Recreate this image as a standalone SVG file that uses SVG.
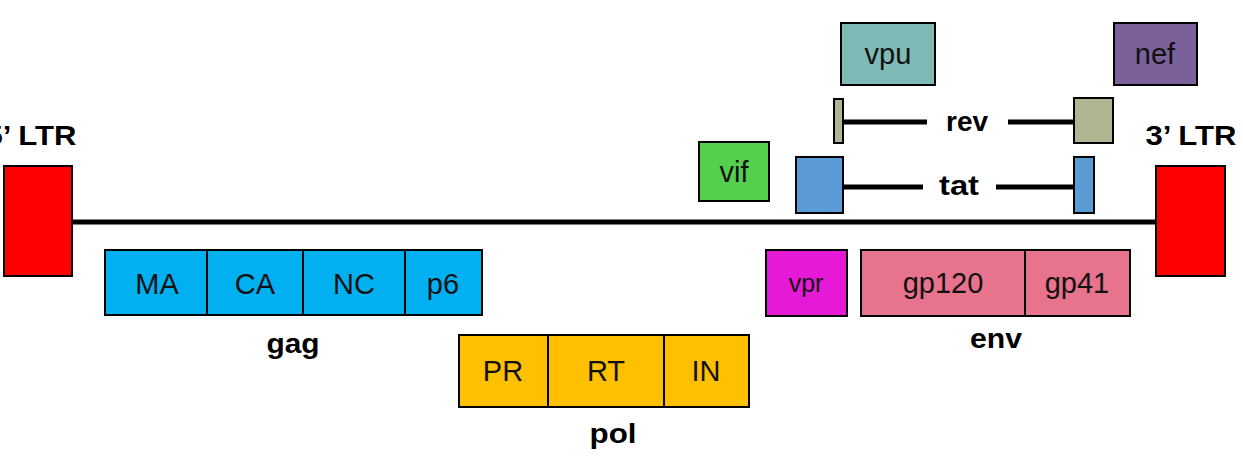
<svg xmlns="http://www.w3.org/2000/svg" width="1243" height="456" viewBox="0 0 1243 456">
<style>
.box{stroke:#000;stroke-width:2}
.div{stroke:#000;stroke-width:2}
.lbl{font-family:"Liberation Sans",Arial,sans-serif;font-size:29px;fill:#111;text-anchor:middle}
.bold{font-family:"Liberation Sans",Arial,sans-serif;font-weight:bold;font-size:28px;fill:#000;text-anchor:middle}
.ln{stroke:#000;stroke-width:5;fill:none}
</style>
<rect width="1243" height="456" fill="#fff"/>
<g id="connectors">
<line class="ln" x1="72" y1="222" x2="1156" y2="222"/>
<line class="ln" x1="843" y1="122" x2="927" y2="122"/>
<line class="ln" x1="1008" y1="122" x2="1074" y2="122"/>
<line class="ln" x1="843" y1="187" x2="923" y2="187"/>
<line class="ln" x1="996" y1="187" x2="1074" y2="187"/>
</g>
<g id="ltr5">
<rect class="box" x="4" y="166" width="68" height="110" fill="#ff0000"/>
<text class="bold" x="31" y="145" textLength="91" lengthAdjust="spacingAndGlyphs">5’ LTR</text>
</g>
<g id="ltr3">
<rect class="box" x="1156" y="166" width="69" height="110" fill="#ff0000"/>
<text class="bold" x="1191" y="145" textLength="91" lengthAdjust="spacingAndGlyphs">3’ LTR</text>
</g>
<g id="gag">
<rect class="box" x="105" y="250" width="377" height="65" fill="#00b0f0"/>
<line class="div" x1="207" y1="250" x2="207" y2="315"/>
<line class="div" x1="303" y1="250" x2="303" y2="315"/>
<line class="div" x1="405" y1="250" x2="405" y2="315"/>
<text class="lbl" x="157" y="294">MA</text>
<text class="lbl" x="255" y="294">CA</text>
<text class="lbl" x="354" y="294">NC</text>
<text class="lbl" x="443" y="294">p6</text>
<text class="bold" x="293" y="353" textLength="53" lengthAdjust="spacingAndGlyphs">gag</text>
</g>
<g id="pol">
<rect class="box" x="459" y="335" width="290" height="72" fill="#ffc000"/>
<line class="div" x1="548" y1="335" x2="548" y2="407"/>
<line class="div" x1="664" y1="335" x2="664" y2="407"/>
<text class="lbl" x="503" y="381">PR</text>
<text class="lbl" x="606" y="381">RT</text>
<text class="lbl" x="706" y="381">IN</text>
<text class="bold" x="613" y="443" textLength="47" lengthAdjust="spacingAndGlyphs">pol</text>
</g>
<g id="vif">
<rect class="box" x="699" y="142" width="70" height="59" fill="#55d04e"/>
<text class="lbl" x="734" y="182">vif</text>
</g>
<g id="vpr">
<rect class="box" x="766" y="250" width="81" height="66" fill="#e619d6"/>
<text class="lbl" x="806" y="292" style="font-size:25px">vpr</text>
</g>
<g id="env">
<rect class="box" x="861" y="250" width="269" height="66" fill="#e8738c"/>
<line class="div" x1="1025" y1="250" x2="1025" y2="316"/>
<text class="lbl" x="943" y="293">gp120</text>
<text class="lbl" x="1077" y="293">gp41</text>
<text class="bold" x="996" y="348" textLength="52" lengthAdjust="spacingAndGlyphs">env</text>
</g>
<g id="vpu">
<rect class="box" x="841" y="23" width="94" height="62" fill="#7fbab6"/>
<text class="lbl" x="888" y="64">vpu</text>
</g>
<g id="nef">
<rect class="box" x="1114" y="23" width="83" height="62" fill="#7b6099"/>
<text class="lbl" x="1155" y="64">nef</text>
</g>
<g id="rev">
<rect class="box" x="834" y="99" width="9" height="44" fill="#b0b592"/>
<rect class="box" x="1074" y="98" width="39" height="45" fill="#b0b592"/>
<text class="bold" x="967" y="131" textLength="42" lengthAdjust="spacingAndGlyphs">rev</text>
</g>
<g id="tat">
<rect class="box" x="796" y="157" width="47" height="56" fill="#5b9bd5"/>
<rect class="box" x="1074" y="157" width="20" height="56" fill="#5b9bd5"/>
<text class="bold" x="959" y="195" textLength="40" lengthAdjust="spacingAndGlyphs">tat</text>
</g>
</svg>
